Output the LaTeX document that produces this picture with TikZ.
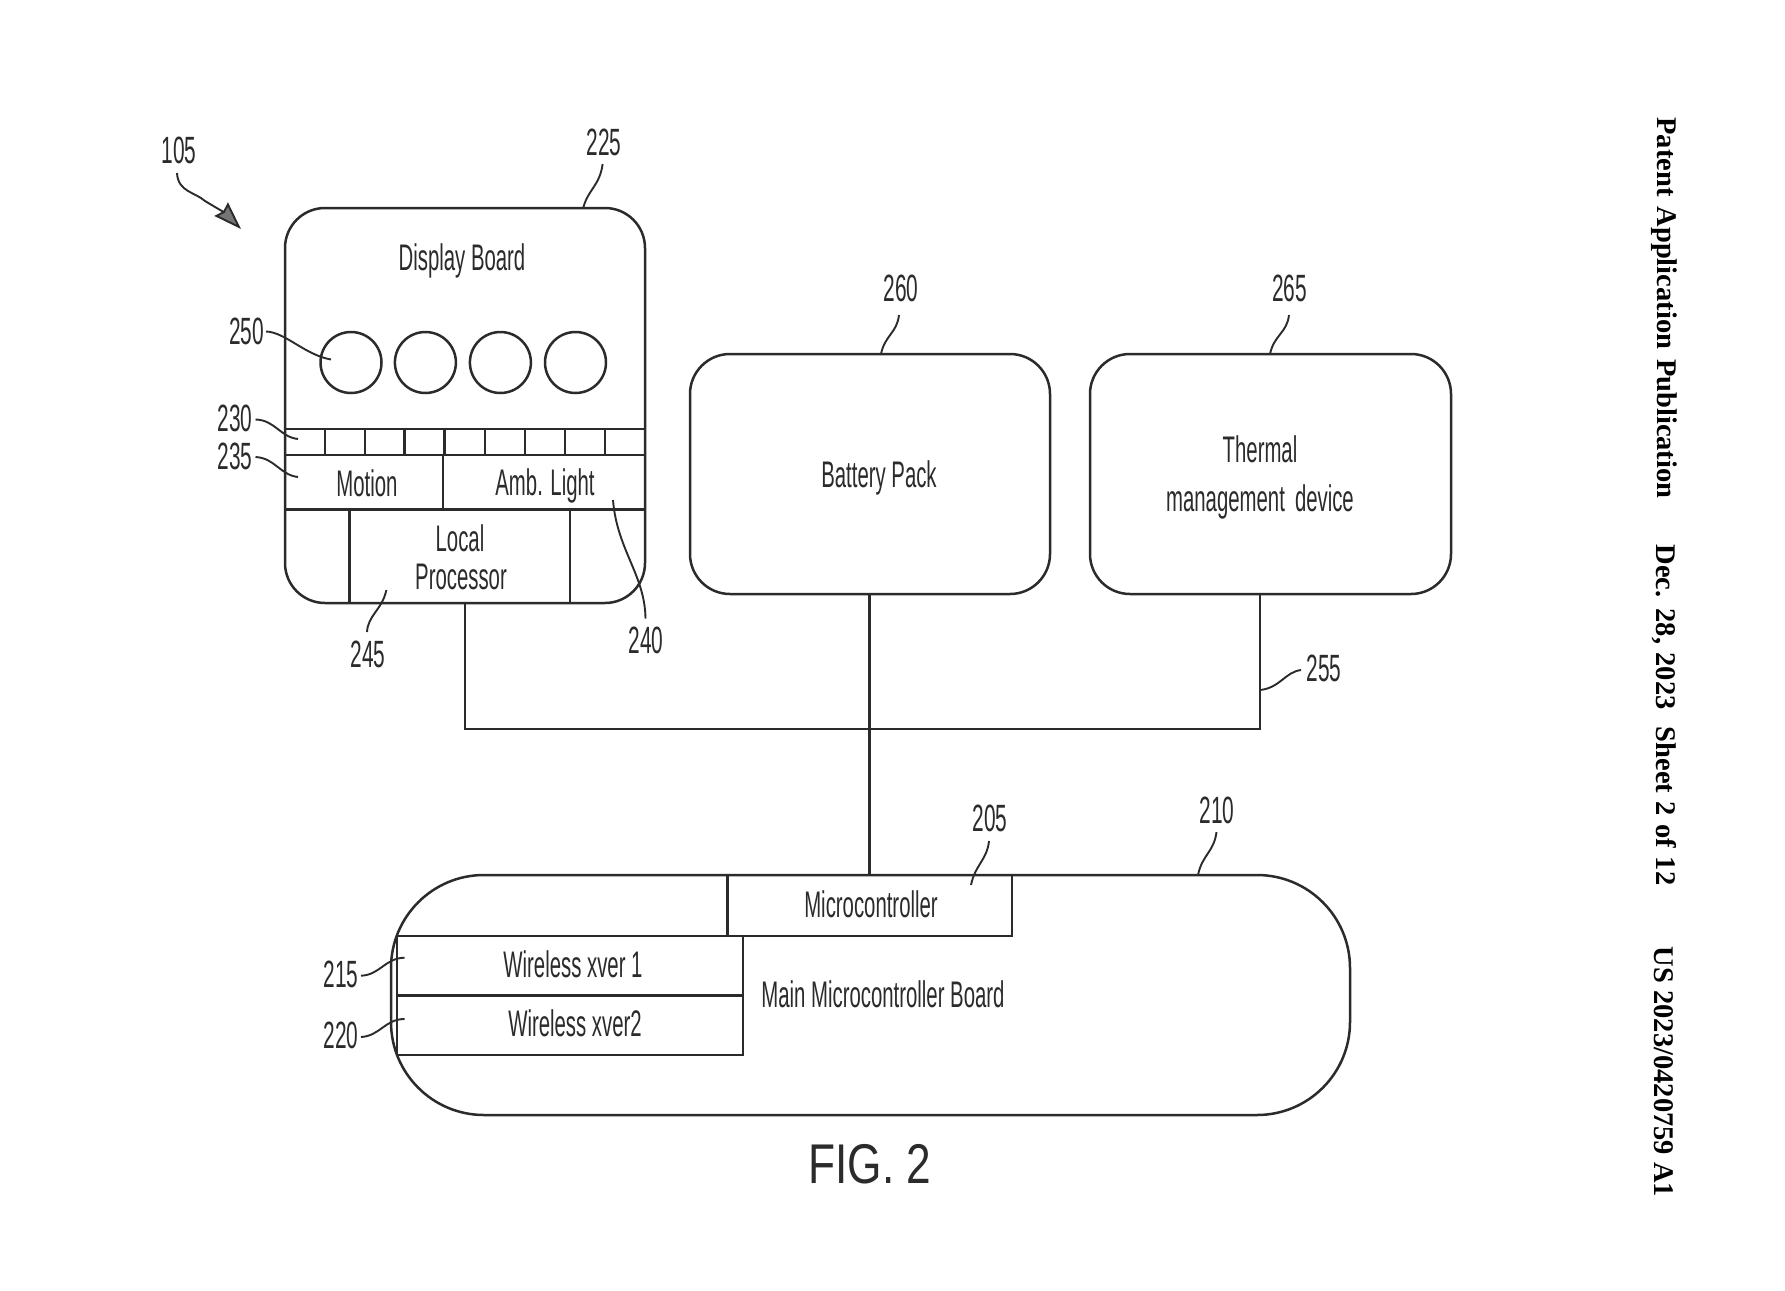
\documentclass[tikz,border=0pt]{standalone}
\usepackage{fontspec}
\usetikzlibrary{arrows.meta}
\newfontfamily\narrowfont[FakeStretch=0.55]{Liberation Sans}
\newfontfamily\figfont[FakeStretch=0.79]{Liberation Sans}
\newfontfamily\headfont[Ligatures=TeX]{Liberation Serif Bold}
\definecolor{ink}{HTML}{2B2B2B}
\tikzset{
  x=1pt,y=-1pt,
  every node/.style={inner sep=0pt,outer sep=0pt,text=ink},
  box/.style={draw=ink,line width=2.5pt},
  roundbox/.style={box,rounded corners=40pt},
  wire/.style={draw=ink,line width=2.3pt},
  leader/.style={draw=ink,line width=1.9pt},
  lab/.style={font=\fontsize{37}{37}\selectfont\narrowfont},
  num/.style={font=\fontsize{38}{38}\selectfont\narrowfont},
  head/.style={rotate=-90,font=\fontsize{28.5}{28.5}\selectfont\headfont,text=black},
}
\newcommand{\lead}[5]{%
  \coordinate (#1a) at (#2);\coordinate (#1b) at (#5);
  \draw[leader] (#1a) .. controls (#3) and (#4) .. (#1b);}
\begin{document}
\begin{tikzpicture}
\useasboundingbox[fill=white] (0,0) rectangle (1785,1290);
% display board
\node[roundbox,minimum width=360pt,minimum height=395pt] (display) at (465,405.5) {};
\foreach \n/\cx in {a/351,b/425.4,c/500.4,d/575.5}
  \node[box,circle,minimum size=61pt] (led\n) at (\cx,362.5) {};
\node[box,minimum width=360pt,minimum height=26pt] (strip) at (465,442) {};
\foreach \n/\cx in {a/325,b/365,c/404.4,d/444.6,e/485,f/525,g/565,h/605}{
  \coordinate (st\n) at (\cx,429);\coordinate (sb\n) at (\cx,455);
  \draw[box] (st\n) -- (sb\n);}
\node[box,minimum width=158pt,minimum height=54.5pt,lab] (motion) at (364,482.2) {};
\node[box,minimum width=202pt,minimum height=54.5pt] (amb) at (544,482.2) {};
\node[box,minimum width=220.3pt,minimum height=93.5pt] (proc) at (459.85,556.2) {};
\node[lab] (tdisplay) at (462,261) {Display Board};
\node[lab] (tmotion) at (367,483) {Motion};
\node[lab] (tamb) at (545,486) {Amb. Light};
\node[lab] (tlocal) at (460,538) {Local};
\node[lab] (tproc) at (461,577) {Processor};
% battery and thermal
\node[roundbox,minimum width=360pt,minimum height=240pt,lab] (battery) at (870,474) {};
\node[roundbox,minimum width=361pt,minimum height=240pt] (thermal) at (1270.5,474) {};
\node[lab] (tbattery) at (879,478) {Battery Pack};
\node[lab] (tthermal) at (1260,449) {Thermal};
\node[lab] (tmgmt) at (1260,502) {management\hspace{0.12em} device};
% main board
\node[box,rounded corners=93pt,minimum width=959pt,minimum height=240pt] (main) at (870.5,995) {};
\node[box,minimum width=284.5pt,minimum height=61pt] (micro) at (869.7,905.5) {};
\node[box,minimum width=346pt,minimum height=59.5pt] (xv1) at (570,965.7) {};
\node[box,minimum width=346pt,minimum height=59.5pt] (xv2) at (570,1025.2) {};
\coordinate (rowl) at (397,936);
\draw[box] (rowl) -- (micro.south west);
\node[lab] (tmicro) at (871,904) {Microcontroller};
\node[lab] (txv1) at (573,964) {Wireless xver 1};
\node[lab] (txv2) at (575,1023) {Wireless xver2};
\node[lab] (tmain) at (883,994) {Main Microcontroller Board};
% bus
\coordinate (busl) at (465,729);
\coordinate (busr) at (1260,729);
\coordinate (busm) at (869.5,729);
\draw[wire] (proc.south -| busl) -- (busl) -- (busr) -- (thermal.south -| busr);
\draw[wire] (battery.south -| busm) -- (micro.north -| busm);
% reference numerals
\node[num] (n105) at (179,150) {105};
\node[num] (n225) at (604,142) {225};
\node[num] (n250) at (246.5,331) {250};
\node[num] (n230) at (235,418) {230};
\node[num] (n235) at (235,456) {235};
\node[num] (n240) at (646,640) {240};
\node[num] (n245) at (368,654) {245};
\node[num] (n260) at (901,288) {260};
\node[num] (n265) at (1289.5,288) {265};
\node[num] (n255) at (1324,668) {255};
\node[num] (n205) at (990,818) {205};
\node[num] (n210) at (1217,810) {210};
\node[num] (n215) at (341,974) {215};
\node[num] (n220) at (341,1035) {220};
\node[font=\fontsize{56}{56}\selectfont\figfont] (fig) at (870,1164) {FIG. 2};
% leaders
\coordinate (a105s) at (177,173);
\coordinate (a105e) at (241,229);
\draw[leader,-{Stealth[length=28pt,width=19pt,inset=3pt,fill=ink!65!white]}] (a105s) .. controls (178,192) and (195,192) .. (205,201) .. controls (215,207) and (225,213) .. (a105e);
\lead{l225}{602.6,164}{600,185}{588,190}{583.5,207}
\lead{l250}{266,331.5}{285,332}{305,355}{331,359.5}
\lead{l230}{255.5,419.5}{275,420}{280,437}{298,439}
\lead{l235}{255.5,457}{275,458}{280,475}{298,477}
\lead{l240}{613,500}{617,550}{645,575}{645.5,618.6}
\lead{l245}{386.4,590}{382,610}{368,615}{367,632}
\lead{l260}{899,315}{897,333}{885,335}{881,354}
\lead{l265}{1289,315}{1287,333}{1274,335}{1270,354}
\lead{l255}{1301,670}{1285,672}{1280,688}{1260,690}
\lead{l205}{989,841}{987,860}{975,865}{971,885}
\lead{l210}{1216.5,832}{1214,852}{1202,855}{1198,875}
\lead{l215}{361,975.7}{380,975}{385,958}{404.6,957.7}
\lead{l220}{361,1037}{380,1036}{385,1019}{404.6,1019}
% running header
\node[head] (h1) at (1664,308) {Patent\hspace{0.1em} Application\hspace{0.1em} Publication};
\node[head] (h2) at (1664,715) {Dec.\hspace{0.05em} 28,\hspace{0.05em} 2023\hspace{0.6em}Sheet\hspace{0.05em} 2\hspace{0.05em} of\hspace{0.05em} 12};
\node[head] (h3) at (1664,1072) {US 2023/0420759 A1};
\end{tikzpicture}
\end{document}
